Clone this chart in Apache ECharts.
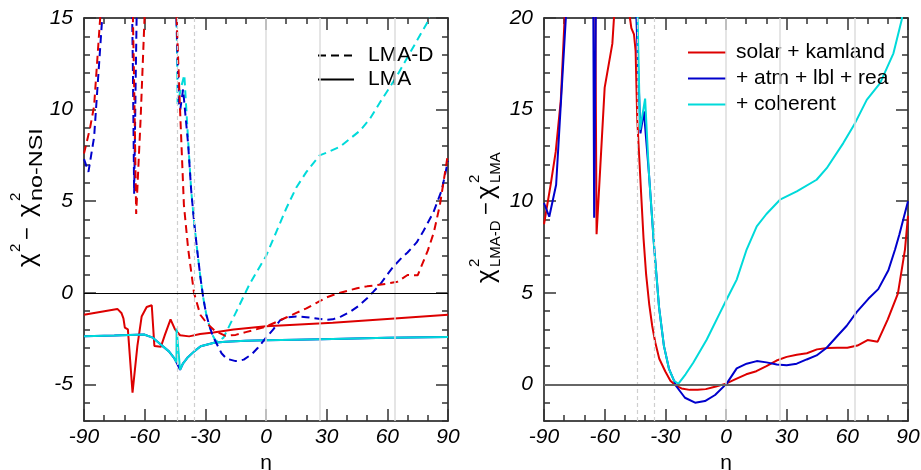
<!DOCTYPE html>
<html>
<head>
<meta charset="utf-8">
<script src="https://cdn.jsdelivr.net/npm/echarts@6/dist/echarts.min.js"></script>
<style>
html, body { margin: 0; padding: 0; background: #fff; }
#main { width: 921px; height: 470px; }
</style>
</head>
<body>
<div id="main"></div>
<script>
// tick labels
var xTicks = [-90, -60, -30, 0, 30, 60, 90];
var yTicksLeft = [-5, 0, 5, 10, 15];
var yTicksRight = [0, 5, 10, 15, 20];

// reference lines (eta, degrees)
var refSolid = [0, 26.57, 63.43];
var refDashed = [-43.8, -35.3];

// left panel: chi2 - chi2(no NSI), LMA-D (dashed)
var leftSolarD = [[-90, 7.6], [-87, 9.0], [-85, 10.2], [-82, 15], [-80, 22], [-67, 22], [-65.3, 12], [-64.2, 4.3], [-62, 9.5], [-60, 15.2], [-58, 22],
  [-46, 22], [-44.2, 15], [-42.5, 10], [-40.6, 4.8], [-38.5, 2.4], [-35.6, 0], [-32.5, -1.2], [-29, -1.7], [-25, -2.1], [-20, -2.35], [-15, -2.3],
  [-10, -2.15], [-5, -2.0], [0, -1.85], [5, -1.6], [10, -1.35], [15, -1.1], [20, -0.85], [25, -0.55], [30, -0.25], [35, -0.05], [40, 0.1],
  [45, 0.25], [50, 0.35], [55, 0.42], [60, 0.5], [65, 0.6], [70, 0.97], [75, 0.95], [80, 2.3], [83, 3.3], [86, 4.8], [90, 7.6]];
var leftAtmD = [[-90, 7.3], [-87.8, 6.6], [-85, 8.5], [-81, 15], [-79, 22], [-67, 22], [-65.8, 12], [-65.2, 5.4], [-64.4, 12], [-63, 22],
  [-46, 22], [-44.3, 15], [-43, 10.2], [-42.4, 10], [-41, 11.1], [-38.5, 8.1], [-37, 5.6], [-35.5, 3.8], [-34, 2.3], [-32.5, 0.9], [-31, -0.3],
  [-29.5, -1.2], [-28, -1.8], [-26.5, -2.3], [-25, -2.65], [-22, -3.3], [-19.5, -3.6], [-15, -3.73], [-11, -3.65], [-7, -3.35], [-4, -3.0],
  [0, -2.45], [3.6, -2.0], [7, -1.5], [10, -1.35], [15, -1.29], [20, -1.33], [25, -1.4], [30, -1.47], [33, -1.45], [37, -1.3], [41.5, -1.05],
  [46, -0.7], [50, -0.3], [53, 0.05], [56.4, 0.45], [60, 1.0], [63, 1.43], [67, 1.9], [70, 2.2], [74.5, 2.75], [78, 3.4], [82.8, 4.4],
  [86.9, 5.6], [90, 7.2]];
var leftCohD = [[-46, 22], [-44.2, 15], [-43.7, 10.3], [-42, 11.2], [-40.4, 11.9], [-38.5, 8.3], [-37, 5.6], [-35.5, 3.8], [-34, 2.3],
  [-32.5, 0.9], [-31, -0.3], [-29.5, -1.2], [-28, -1.8], [-26.5, -2.3], [-25, -2.6], [-23.5, -2.65], [-21, -2.45], [-15, -1.1], [-8, 0.5],
  [0, 2.0], [5, 3.3], [10, 4.6], [15, 5.75], [20, 6.6], [26.5, 7.5], [30, 7.65], [36.6, 7.97], [42, 8.45], [46.5, 8.85], [51.4, 9.5],
  [56.4, 10.4], [64, 11.7], [71.2, 13.1], [79.5, 14.7], [85, 16.5]];

// left panel: LMA (solid)
var leftSolarL = [[-90, -1.2], [-73.5, -0.88], [-71.5, -1.1], [-70.5, -1.4], [-69.8, -1.9], [-68.3, -2.0], [-66, -5.45], [-63.6, -2.9],
  [-61.5, -1.3], [-59, -0.78], [-56.5, -0.68], [-55.2, -2.9], [-52, -2.95], [-50, -2.3], [-47.2, -1.45], [-45, -2.0], [-42.5, -2.32],
  [-38, -2.38], [-32.6, -2.25], [-26, -2.17], [-16, -2.0], [0, -1.83], [33, -1.64], [60, -1.43], [90, -1.2]];
var leftAtmL = [[-90, -2.37], [-75, -2.33], [-60.3, -2.28], [-56, -2.45], [-52, -2.83], [-48, -3.2], [-45.5, -3.55], [-44.3, -3.8],
  [-42.5, -4.2], [-41, -3.85], [-38.9, -3.55], [-35.5, -3.2], [-32.3, -2.92], [-28, -2.8], [-25.7, -2.73], [-20, -2.68], [-10, -2.62],
  [0, -2.59], [15, -2.56], [33, -2.52], [60, -2.46], [90, -2.41]];
var leftCohL = [[-90, -2.37], [-75, -2.33], [-60.3, -2.28], [-56, -2.45], [-52, -2.83], [-48, -3.2], [-45.5, -3.55], [-44.3, -3.8],
  [-44.2, -1.95], [-42.5, -4.2], [-41, -3.85], [-38.9, -3.55], [-35.5, -3.2], [-32.3, -2.92], [-28, -2.8], [-25.7, -2.73], [-20, -2.68],
  [-10, -2.62], [0, -2.59], [15, -2.56], [33, -2.52], [60, -2.46], [90, -2.41]];

// right panel: chi2(LMA-D) - chi2(LMA)
var rightSolar = [[-90, 8.74], [-86.7, 10.9], [-84.2, 12.7], [-81.7, 15.5], [-79.8, 20], [-78, 28], [-66, 28], [-64.6, 20], [-64, 8.2],
  [-60, 16.2], [-56.2, 18.6], [-55.4, 20], [-54, 28], [-49, 28], [-47.5, 20], [-46.8, 19.45], [-45.5, 19.1], [-44.7, 18.2], [-43.9, 14.5],
  [-42.2, 10.9], [-40.8, 8.0], [-39.5, 6.0], [-38, 4.4], [-36.5, 3.2], [-35, 2.3], [-33, 1.4], [-30, 0.7], [-27.5, 0.2], [-25, -0.05],
  [-22, -0.22], [-18, -0.3], [-14, -0.3], [-10, -0.26], [-5, -0.12], [0, 0.04], [5, 0.3], [10, 0.55], [15, 0.72], [20, 1.0], [25, 1.3],
  [30, 1.5], [35, 1.62], [40, 1.7], [45, 1.91], [50, 1.99], [55, 2.0], [60, 2.0], [65, 2.12], [70, 2.42], [75, 2.33], [80, 3.55],
  [85, 4.95], [88.5, 7.36], [90, 9.2]];
var rightAtm = [[-90, 9.9], [-87.4, 9.15], [-84, 10.9], [-79.2, 20], [-78, 24], [-67, 28], [-65.6, 20], [-65.2, 9.1], [-64.4, 20], [-63, 28],
  [-46, 28], [-44.3, 20], [-42.3, 13.7], [-40.6, 14.9], [-38.1, 11.5], [-35.6, 7.6], [-33.1, 4.2], [-30.7, 2.1], [-28.2, 0.85],
  [-25.7, 0.2], [-24.4, -0.13], [-20.3, -0.73], [-15.3, -1.0], [-10.4, -0.91], [-5.4, -0.58], [0.3, 0.04], [5.3, 0.87], [10.2, 1.13],
  [15.2, 1.27], [20, 1.2], [25.1, 1.09], [30, 1.04], [35, 1.13], [39.9, 1.36], [44.8, 1.58], [49.8, 2.0], [54.7, 2.6], [59.7, 3.2],
  [64.6, 3.94], [70.4, 4.67], [75.3, 5.2], [80.3, 6.23], [83.6, 7.36], [85.7, 8.17], [90, 10.0]];
var rightCoh = [[-46, 28], [-43.7, 20], [-42.5, 13.9], [-40, 15.6], [-38.1, 11.5], [-35.6, 7.6], [-33.1, 4.2], [-30.7, 2.1], [-28.2, 0.85],
  [-25.7, 0.2], [-23.6, 0.03], [-20, 0.55], [-16.2, 1.18], [-9.5, 2.45], [-3, 3.9], [0.3, 4.63], [5.3, 5.72], [10.2, 7.36], [15.2, 8.63],
  [20, 9.3], [26.7, 10.08], [35, 10.53], [44.8, 11.17], [49.8, 11.8], [58, 13.17], [63.8, 14.26], [69.6, 15.53], [76.2, 16.44],
  [82.8, 18.07], [86.9, 19.9], [89, 22]];

var RED = '#dd0000', BLUE = '#0000cc', CYAN = '#00dada';
var FONT = 'Liberation Sans';
var TICK = {color: '#333', width: 1.5};
var LABEL = {fontSize: 21, fontStyle: 'italic', color: '#000', fontFamily: FONT};

// ticks point into the frame: extra axes shifted inward by the tick length
function xLine(grid, position, labels) {
  return {
    type: 'value', gridIndex: grid, position: position, min: -90, max: 90, interval: 30,
    axisLine: {show: true, onZero: false, lineStyle: {color: '#111', width: 1.5}},
    axisTick: {show: false},
    axisLabel: Object.assign({show: labels, margin: 6}, LABEL),
    splitLine: {show: false},
    name: labels ? 'η' : '', nameLocation: 'middle', nameGap: 28,
    nameTextStyle: {fontSize: 21, color: '#000', fontFamily: FONT}
  };
}
function xTick(grid, position, step, len) {
  return {
    type: 'value', gridIndex: grid, position: position, offset: -len, min: -90, max: 90, interval: step,
    axisLine: {show: false, onZero: false}, axisTick: {show: true, length: len, lineStyle: TICK},
    axisLabel: {show: false}, splitLine: {show: false}
  };
}
function yLine(grid, position, min, max, ticks, labels) {
  return {
    type: 'value', gridIndex: grid, position: position, min: min, max: max,
    axisLine: {show: true, onZero: false, lineStyle: {color: '#111', width: 1.5}},
    axisTick: {show: false},
    axisLabel: Object.assign({show: labels, customValues: ticks, margin: 11}, LABEL),
    splitLine: {show: false}
  };
}
function yTick(grid, position, min, max, ticks, len) {
  var tick = {show: true, length: len, lineStyle: TICK};
  var ax = {
    type: 'value', gridIndex: grid, position: position, offset: -len, min: min, max: max,
    axisLine: {show: false, onZero: false}, axisTick: tick, axisLabel: {show: false}, splitLine: {show: false}
  };
  if (ticks) tick.customValues = ticks; else ax.interval = 1;
  return ax;
}
function curve(name, data, color, dashed, xi, yi) {
  return {
    type: 'line', name: name, data: data, xAxisIndex: xi, yAxisIndex: yi, symbol: 'none', clip: true,
    lineStyle: {color: color, width: 2, type: dashed ? [8, 5] : 'solid'}, itemStyle: {color: color}, z: 3
  };
}
function refSeries(xi, yi, zeroStyle) {
  var lines = [];
  refSolid.forEach(function (v) { lines.push({xAxis: v, lineStyle: {color: '#dcdcdc', width: 1.5, type: 'solid'}}); });
  refDashed.forEach(function (v) { lines.push({xAxis: v, lineStyle: {color: '#cfcfcf', width: 1.2, type: [4, 3]}}); });
  lines.push({yAxis: 0, lineStyle: zeroStyle});
  return {
    type: 'line', data: [[0, -100]], xAxisIndex: xi, yAxisIndex: yi, symbol: 'none', lineStyle: {opacity: 0}, z: 1, silent: true,
    markLine: {silent: true, symbol: 'none', label: {show: false}, animation: false, data: lines}
  };
}

function yTitle(x, y, parts) {
  return {
    type: 'group', x: x, y: y, rotation: Math.PI / 2,
    children: parts.map(function (p) {
      return {type: 'text', x: p[1], y: p[2], scaleX: p[4] || 1,
        style: {text: p[0], font: p[3] + 'px "' + FONT + '"', fill: '#000', verticalAlign: 'middle'}};
    })
  };
}

var xAxes = [], yAxes = [];
[0, 1].forEach(function (g) {
  xAxes.push(xLine(g, 'bottom', true), xTick(g, 'bottom', 30, 12), xTick(g, 'bottom', 10, 6),
    xLine(g, 'top', false), xTick(g, 'top', 30, 12), xTick(g, 'top', 10, 6));
  var min = g === 0 ? -7 : -2, max = g === 0 ? 15 : 20, ticks = g === 0 ? yTicksLeft : yTicksRight;
  yAxes.push(yLine(g, 'left', min, max, ticks, true), yTick(g, 'left', min, max, ticks, 12), yTick(g, 'left', min, max, null, 6),
    yLine(g, 'right', min, max, ticks, false), yTick(g, 'right', min, max, ticks, 12), yTick(g, 'right', min, max, null, 6));
});

var chart = echarts.init(document.getElementById('main'));
chart.setOption({
  animation: false,
  grid: [
    {left: 84, top: 18, width: 364, height: 403, outerBoundsMode: 'none', containLabel: false},
    {left: 544, top: 18, width: 364, height: 403, outerBoundsMode: 'none', containLabel: false}
  ],
  xAxis: xAxes,
  yAxis: yAxes,
  legend: [
    {data: ['LMA-D', 'LMA'], orient: 'vertical', left: 312, top: 40, itemWidth: 36, itemHeight: 12, itemGap: 3,
      itemStyle: {opacity: 0},
      textStyle: {fontSize: 21, color: '#000', fontFamily: FONT, padding: [0, 0, 0, 9]}},
    {data: ['solar + kamland', '+ atm + lbl + rea', '+ coherent'], orient: 'vertical', left: 682, top: 37, itemWidth: 38, itemHeight: 12,
      itemGap: 5, itemStyle: {opacity: 0},
      textStyle: {fontSize: 21, color: '#000', fontFamily: FONT, padding: [0, 0, 0, 5]}}
  ],
  graphic: [
    yTitle(28, 267, [['χ', 0, 0, 26], ['2', 15, -12, 15], ['−', 27, 0, 22], ['χ', 50, 0, 26], ['2', 66, -12, 15], ['no-NSI', 66, 9, 18, 1.3]]),
    yTitle(487, 283, [['χ', 0, 0, 26], ['2', 16, -12, 15], ['LMA-D', 16, 9, 15], ['−', 68, 0, 22], ['χ', 84, 0, 26], ['2', 100, -12, 15], ['LMA', 100, 9, 15]])
  ],
  series: [
    refSeries(0, 0, {color: '#000', width: 1.2, type: 'solid'}),
    refSeries(6, 6, {color: '#666', width: 2, type: 'solid'}),
    {type: 'line', name: 'LMA-D', data: [], xAxisIndex: 0, yAxisIndex: 0, symbol: 'none', lineStyle: {color: '#000', width: 2, type: [8, 5]}, itemStyle: {color: '#000'}},
    {type: 'line', name: 'LMA', data: [], xAxisIndex: 0, yAxisIndex: 0, symbol: 'none', lineStyle: {color: '#000', width: 2}, itemStyle: {color: '#000'}},
    curve('sk LMA', leftSolarL, RED, false, 0, 0),
    curve('atm LMA', leftAtmL, BLUE, false, 0, 0),
    curve('coh LMA', leftCohL, CYAN, false, 0, 0),
    curve('coh LMA-D', leftCohD, CYAN, true, 0, 0),
    curve('atm LMA-D', leftAtmD, BLUE, true, 0, 0),
    curve('sk LMA-D', leftSolarD, RED, true, 0, 0),
    curve('solar + kamland', rightSolar, RED, false, 6, 6),
    curve('+ atm + lbl + rea', rightAtm, BLUE, false, 6, 6),
    curve('+ coherent', rightCoh, CYAN, false, 6, 6)
  ]
});
</script>
</body>
</html>
